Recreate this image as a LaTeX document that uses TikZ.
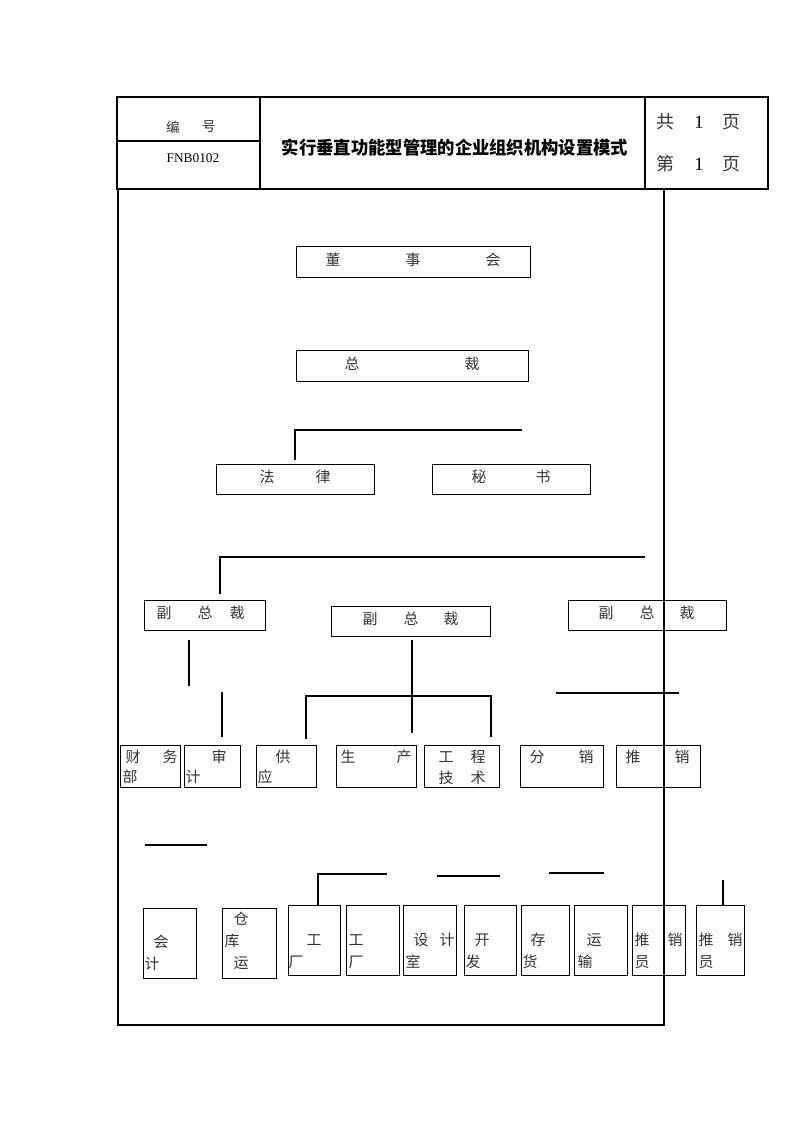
\documentclass[tikz,border=0pt]{standalone}
\usepackage{fontspec}
\setmainfont{Liberation Serif}
\newfontfamily\cjk{Noto Sans CJK SC}
\usetikzlibrary{fit}
\newcommand\bx[5]{\node[box, fit={(#2,#3) (#4,#5)}] (#1) {};}
\newcommand\tx[4]{\node[lbl] (#1) at (#2,#3) {#4};}
\begin{document}
\begin{tikzpicture}[x=0.75pt,y=-0.75pt,
  box/.style={draw, line width=0.75pt, inner sep=0pt},
  lbl/.style={inner sep=0pt, font=\cjk\fontsize{11.2}{13}\selectfont, text=black!80},
  conn/.style={line width=0.8pt},
  frame/.style={line width=2.2pt}]
\useasboundingbox (0,0) rectangle (793,1122);
% header
\draw[line width=1.6pt] (117,97) rectangle (768,189);
\draw[line width=0.8pt] (260,97) -- (260,189) (645,97) -- (645,189) (117,141) -- (260,141);
\node[lbl, font=\cjk\fontsize{10.2}{12}\selectfont] (hb1) at (173,127) {编};
\node[lbl, font=\cjk\fontsize{10.2}{12}\selectfont] (hb2) at (209,127) {号};
\node[inner sep=0pt, font=\fontsize{10}{12}\selectfont] (hnum) at (193,158) {FNB0102};
\node[inner sep=0pt, font=\cjk\bfseries\fontsize{13.4}{16}\selectfont, xscale=0.97] (title) at (455,148) {实行垂直功能型管理的企业组织机构设置模式};
\node[lbl, font=\cjk\fontsize{13.5}{15}\selectfont] (g1) at (665,122) {共};
\node[inner sep=0pt, font=\fontsize{14}{15}\selectfont] (g2) at (699,122) {1};
\node[lbl, font=\cjk\fontsize{13.5}{15}\selectfont] (g3) at (731,122) {页};
\node[lbl, font=\cjk\fontsize{13.5}{15}\selectfont] (d1) at (665,164) {第};
\node[inner sep=0pt, font=\fontsize{14}{15}\selectfont] (d2) at (699,164) {1};
\node[lbl, font=\cjk\fontsize{13.5}{15}\selectfont] (d3) at (731,164) {页};
% level boxes
\bx{dsh}{296}{246}{530}{277}
\tx{dsh1}{333}{260}{董}\tx{dsh2}{413}{260}{事}\tx{dsh3}{493}{260}{会}
\bx{zc}{296}{350}{528}{381}
\tx{zc1}{352}{364}{总}\tx{zc2}{472}{364}{裁}
\bx{fl}{216}{464}{374}{494}
\tx{fl1}{267}{477}{法}\tx{fl2}{323}{477}{律}
\bx{ms}{432}{464}{590}{494}
\tx{ms1}{479}{477}{秘}\tx{ms2}{543}{477}{书}
\bx{fz1}{144}{600}{265}{630}
\tx{fz11}{164}{613}{副}\tx{fz12}{205}{613}{总}\tx{fz13}{237}{613}{裁}
\bx{fz2}{331}{606}{490}{636}
\tx{fz21}{370}{619}{副}\tx{fz22}{411}{619}{总}\tx{fz23}{451}{619}{裁}
\bx{fz3}{568}{600}{726}{630}
\tx{fz31}{606}{613}{副}\tx{fz32}{647}{613}{总}\tx{fz33}{687}{613}{裁}
% row 3
\bx{cw}{120}{745}{180}{787}
\tx{cw1}{133}{757}{财}\tx{cw2}{170}{757}{务}\tx{cw3}{130}{777}{部}
\bx{sj}{184}{745}{240}{787}
\tx{sj1}{219}{757}{审}\tx{sj2}{193}{777}{计}
\bx{gy}{256}{745}{316}{787}
\tx{gy1}{283}{757}{供}\tx{gy2}{265}{777}{应}
\bx{sc}{336}{745}{416}{787}
\tx{sc1}{348}{757}{生}\tx{sc2}{404}{757}{产}
\bx{gc}{424}{745}{499}{787}
\tx{gc1}{446}{757}{工}\tx{gc2}{478}{757}{程}\tx{gc3}{446}{778}{技}\tx{gc4}{478}{778}{术}
\bx{fx}{520}{745}{603}{787}
\tx{fx1}{537}{757}{分}\tx{fx2}{586}{757}{销}
\bx{tx}{616}{745}{700}{787}
\tx{tx1}{633}{757}{推}\tx{tx2}{682}{757}{销}
% row 4
\bx{kj}{143}{908}{196}{978}
\tx{kj1}{161}{942}{会}\tx{kj2}{152}{964}{计}
\bx{ck}{222}{908}{276}{978}
\tx{ck1}{241}{919}{仓}\tx{ck2}{232}{941}{库}\tx{ck3}{241}{963}{运}
\bx{gcA}{288}{905}{340}{975}
\tx{gA1}{314}{940}{工}\tx{gA2}{296}{962}{厂}
\bx{gcB}{346}{905}{399}{975}
\tx{gB1}{356}{940}{工}\tx{gB2}{356}{962}{厂}
\bx{sjs}{403}{905}{456}{975}
\tx{sjs1}{421}{940}{设}\tx{sjs2}{447}{940}{计}\tx{sjs3}{413}{962}{室}
\bx{kf}{464}{905}{516}{975}
\tx{kf1}{482}{940}{开}\tx{kf2}{473}{962}{发}
\bx{ch}{521}{905}{569}{975}
\tx{ch1}{538}{940}{存}\tx{ch2}{530}{962}{货}
\bx{ys}{574}{905}{627}{975}
\tx{ys1}{594}{940}{运}\tx{ys2}{585}{962}{输}
\bx{tA}{632}{905}{685}{975}
\tx{tA1}{642}{940}{推}\tx{tA2}{675}{940}{销}\tx{tA3}{642}{962}{员}
\bx{tB}{696}{905}{744}{975}
\tx{tB1}{706}{940}{推}\tx{tB2}{735}{940}{销}\tx{tB3}{706}{962}{员}
% connector coordinates
\coordinate (a1) at (295,460); \coordinate (a2) at (295,430); \coordinate (a3) at (522,430);
\coordinate (b1) at (220,594); \coordinate (b2) at (220,557); \coordinate (b3) at (645,557);
\coordinate (c1) at (189,640); \coordinate (c2) at (189,686);
\coordinate (d1) at (222,692); \coordinate (d2) at (222,737);
\coordinate (e1) at (412,640); \coordinate (e2) at (412,733);
\coordinate (f1) at (306,739); \coordinate (f2) at (306,696); \coordinate (f3) at (491,696); \coordinate (f4) at (491,737);
\coordinate (g1) at (556,693); \coordinate (g2) at (679,693);
\coordinate (h1) at (145,845); \coordinate (h2) at (207,845);
\coordinate (i1) at (318,905); \coordinate (i2) at (318,874); \coordinate (i3) at (387,874);
\coordinate (j1) at (437,876); \coordinate (j2) at (500,876);
\coordinate (k1) at (549,873); \coordinate (k2) at (604,873);
\coordinate (l1) at (723,880); \coordinate (l2) at (723,905);
\draw[conn] (a1) -- (a2) -- (a3);
\draw[conn] (b1) -- (b2) -- (b3);
\draw[conn] (c1) -- (c2);
\draw[conn] (d1) -- (d2);
\draw[conn] (e1) -- (e2);
\draw[conn] (f1) -- (f2) -- (f3) -- (f4);
\draw[conn] (g1) -- (g2);
\draw[conn] (h1) -- (h2);
\draw[conn] (i1) -- (i2) -- (i3);
\draw[conn] (j1) -- (j2);
\draw[conn] (k1) -- (k2);
\draw[conn] (l1) -- (l2);
% main frame
\draw[frame] (118,189) rectangle (664,1025);
\end{tikzpicture}
\end{document}
